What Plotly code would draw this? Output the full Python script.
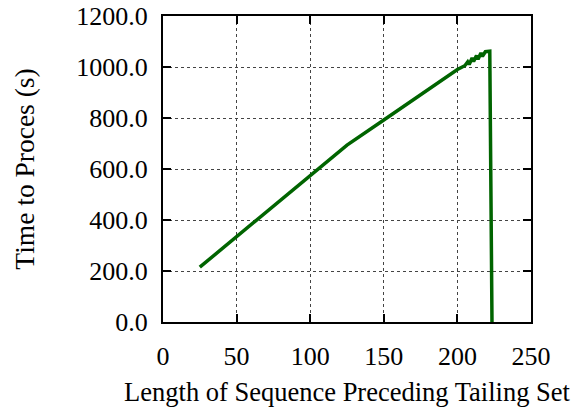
import plotly.graph_objects as go

seq_len = [25, 125, 150, 175, 200, 205, 207, 208, 210, 211, 213, 214, 216, 217, 219, 222, 223.5]
time_s = [215, 694, 792, 890, 990, 1005, 1020, 1010, 1035, 1022, 1045, 1030, 1055, 1042, 1060, 1062, 0]

x_ticks = [0, 50, 100, 150, 200, 250]
y_ticks = [0, 200, 400, 600, 800, 1000, 1200]

font = dict(family="Liberation Serif, Times New Roman, serif", size=26, color="black")
xtitle_font = dict(family="Liberation Serif, Times New Roman, serif", size=26.5, color="black")
ytitle_font = dict(family="Liberation Serif, Times New Roman, serif", size=27.5, color="black")

fig = go.Figure()
fig.add_trace(go.Scatter(x=seq_len, y=time_s, mode="lines",
                         line=dict(color="#006400", width=3.5), showlegend=False))

axis_common = dict(showline=True, linecolor="black", linewidth=2, mirror="ticks",
                   ticks="inside", ticklen=8, tickwidth=1.5, tickcolor="black",
                   showgrid=True, gridcolor="#444444", griddash="dot", gridwidth=1,
                   zeroline=False, tickfont=font, automargin=False)

fig.update_xaxes(range=[0, 250], tickvals=x_ticks, ticktext=[str(v) for v in x_ticks],
                 ticklabelstandoff=10,
                 title=dict(text="Length of Sequence Preceding Tailing Set", font=xtitle_font, standoff=15),
                 **axis_common)
fig.update_yaxes(range=[0, 1200], tickvals=y_ticks, ticktext=[f"{v:.1f}" for v in y_ticks],
                 ticklabelstandoff=8,
                 title=dict(text="Time to Proces (s)", font=ytitle_font, standoff=34),
                 **axis_common)

fig.update_layout(width=574, height=407, margin=dict(l=163, r=43, t=16, b=85),
                  plot_bgcolor="white", paper_bgcolor="white", font=font)

fig.write_html("out.html")
